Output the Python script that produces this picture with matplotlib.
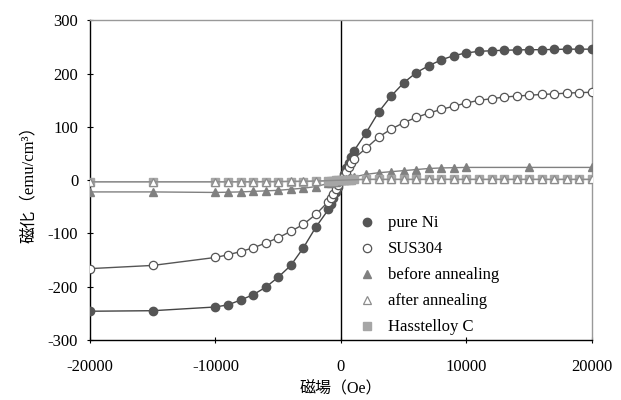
import matplotlib
matplotlib.use('Agg')
import matplotlib.pyplot as plt

plt.rcParams['font.family'] = ['Liberation Serif', 'Noto Sans CJK JP']
plt.rcParams['axes.unicode_minus'] = False

# 磁場 (Oe)
H_neg = [-20000, -15000, -10000, -9000, -8000, -7000, -6000, -5000, -4000, -3000, -2000]
H_mid = [-1000, -800, -600, -400, -200, 0, 200, 400, 600, 800, 1000]
H_pos = [2000, 3000, 4000, 5000, 6000, 7000, 8000, 9000, 10000, 11000,
         12000, 13000, 14000, 15000, 16000, 17000, 18000, 19000, 20000]
H_pos_short = [2000, 3000, 4000, 5000, 6000, 7000, 8000, 9000, 10000, 15000, 20000]

# 磁化 (emu/cm3)
M_ni = [-246, -245, -238, -234, -225, -215, -201, -182, -160, -127, -88,
        -55, -45, -34, -23, -12, 0, 11, 22, 33, 44, 54,
        89, 128, 158, 183, 202, 215, 226, 234, 239, 242, 243, 244, 244.5, 245,
        245, 245.5, 246, 246, 246]
M_sus = [-166, -160, -145, -140, -134, -127, -118, -108, -96, -83, -64,
         -40, -33, -25, -17, -9, 0, 8, 16, 24, 32, 40,
         60, 81, 96, 108, 118, 126, 133, 139, 145, 150, 153, 156, 158, 159.5,
         161, 162, 163.5, 164.5, 165]
M_before = [-22, -22, -23, -22.5, -22, -21, -20, -19, -17, -15, -12,
            -6, -5, -4, -2.5, -1, 0, 1, 2.5, 4, 5, 6,
            11, 14, 16, 18, 20, 22, 23, 23.5, 24, 24, 24]
M_after = [-3, -3, -3, -3, -3, -3, -2.5, -2.5, -2, -2, -1.5,
           1.5, 1.5, 1.5, 1.5, 1.5, 1.5, 1.5, 1.5, 1.5, 1.5,
           1.5, 1.5, 1.5, 1.5, 1.5, 1.5, 1.5, 1.5, 1.5]
M_hast = [-3, -3, -3, -3, -3, -3, -3, -3, -2.5, -2.5, -2,
          -1.5, -1, -1, -0.5, 0, 0, 0, 0.5, 1, 1, 1.5,
          1.5, 1.5, 1.5, 1.5, 1.5, 1.5, 1.5, 1.5, 1.5, 1.5,
          1.5, 1.5, 1.5, 1.5, 1.5, 1.5, 1.5, 1.5, 1.5]

H_all = H_neg + H_mid + H_pos
H_before = H_neg + H_mid + H_pos_short
H_after = H_neg + H_pos

fig = plt.figure(figsize=(6.21, 4.0), dpi=100)
ax = fig.add_axes([0.1449, 0.15, 0.8084, 0.799])

ax.plot(H_all, M_ni, '-o', color='#444444', lw=1.0, ms=6,
        mfc='#555555', mec='#555555', label='pure Ni', zorder=3)
ax.plot(H_all, M_sus, '-o', color='#555555', lw=1.0, ms=6,
        mfc='white', mec='#555555', mew=0.9, label='SUS304', zorder=3)
ax.plot(H_before, M_before, '-^', color='#808080', lw=1.0, ms=5.5,
        mfc='#808080', mec='#808080', label='before annealing', zorder=3)
ax.plot(H_all, M_hast, '-s', color='#a6a6a6', lw=1.0, ms=5.5,
        mfc='#a6a6a6', mec='#a6a6a6', label='Hasstelloy C', zorder=3)
ax.plot(H_after, M_after, '-^', color='#8c8c8c', lw=1.0, ms=5.5,
        mfc='white', mec='#8c8c8c', mew=0.9, label='after annealing', zorder=3)

ax.set_xlim(-20000, 20000)
ax.set_ylim(-300, 300)
ax.set_xticks([-20000, -10000, 0, 10000, 20000])
ax.set_yticks([-300, -200, -100, 0, 100, 200, 300])
ax.tick_params(direction='inout', length=5, width=0.8, labelsize=12)
ax.tick_params(axis='x', pad=11)
ax.tick_params(axis='y', pad=6)

ax.axvline(0, color='black', lw=1.0, zorder=2)
ax.spines['left'].set_color('black')
ax.spines['bottom'].set_color('black')
ax.spines['top'].set_color('#999999')
ax.spines['right'].set_color('#999999')
for s in ax.spines.values():
    s.set_linewidth(1.0)

ax.set_xlabel('磁場（Oe）', fontsize=11.5, labelpad=5)
ax.set_ylabel('磁化（emu/cm³）', fontsize=12, labelpad=8)

handles, labels = ax.get_legend_handles_labels()
order = [0, 1, 2, 4, 3]
leg = ax.legend([handles[i] for i in order], [labels[i] for i in order],
                loc='upper left', bbox_to_anchor=(0.506, 0.437),
                frameon=False, fontsize=12, handlelength=1.0,
                handletextpad=0.75, labelspacing=0.6)
for h in leg.legend_handles:
    h.set_linestyle('none')

fig.savefig('out.png', dpi=100)
